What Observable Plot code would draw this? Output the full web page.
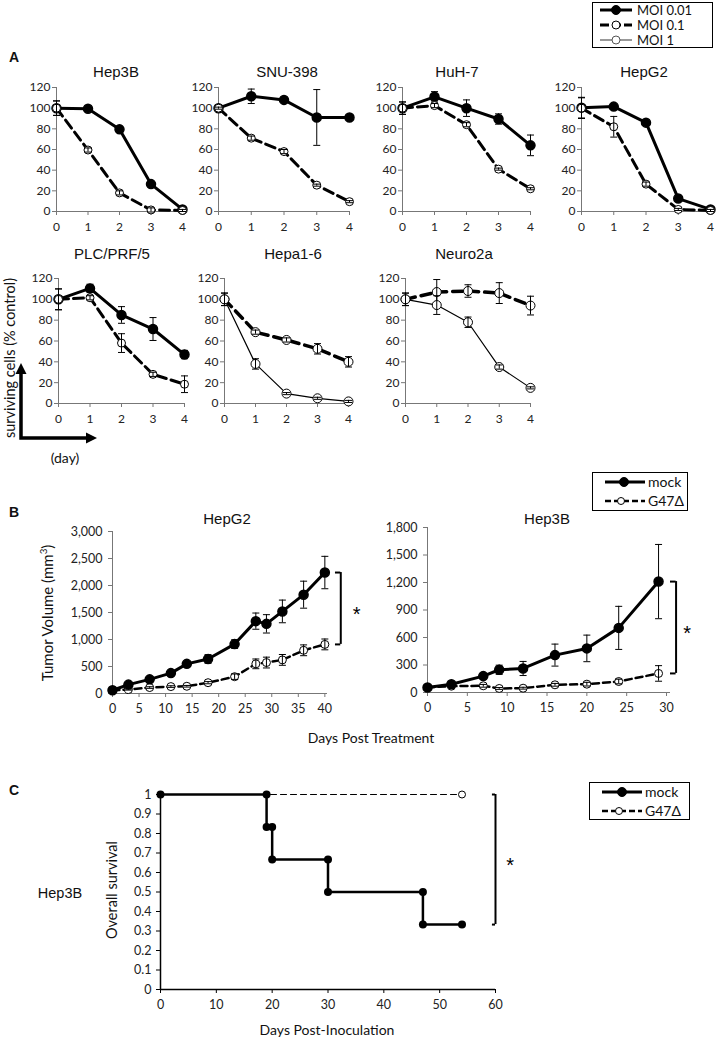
<!DOCTYPE html>
<html><head><meta charset="utf-8">
<script src="https://cdn.jsdelivr.net/npm/d3@7"></script>
<script src="https://cdn.jsdelivr.net/npm/@observablehq/plot@0.6"></script>
<style>
body{margin:0;background:#fff;}
#root{position:relative;width:717px;height:1039px;overflow:hidden;background:#fff;}
</style></head>
<body><div id="root"></div>
<script>
// ---------------- DATA ----------------
const dayTicks = [0, 1, 2, 3, 4];
const pctTicks = [0, 20, 40, 60, 80, 100, 120];

// Panel A (surviving cells, % control) — value + error arrays per cell line
const hep3B_moi001 = [100, 99.5, 79.5, 26.5, 2];
const hep3B_moi001_err = [7, 1, 3, 2, 1];
const hep3B_moi01 = [100, 59.5, 18, 1.5, 1];
const hep3B_moi01_err = [7, 2, 2, 2, 1];

const snu398_moi001 = [100, 111.5, 108, 91, 91];
const snu398_moi001_err = [1, 7, 1, 27, 1];
const snu398_moi01 = [100, 71, 58, 25.5, 9.5];
const snu398_moi01_err = [1, 2, 2, 1, 1];

const huh7_moi001 = [100, 111, 100, 89.5, 64];
const huh7_moi001_err = [6, 5, 8, 5, 10];
const huh7_moi01 = [100, 102.5, 84, 41, 22];
const huh7_moi01_err = [6, 2, 2, 1, 1];

const hepG2_moi001 = [100.5, 101.5, 86, 12.5, 2];
const hepG2_moi001_err = [10, 2, 1, 1, 1];
const hepG2_moi01 = [100, 82, 26.5, 2, 1];
const hepG2_moi01_err = [10, 10, 2, 1, 1];

const plc_moi001 = [100, 110.5, 85, 71.5, 47];
const plc_moi001_err = [10, 4, 8, 11, 4];
const plc_moi01 = [100, 101.5, 58, 28, 18.5];
const plc_moi01_err = [10, 2, 9, 2, 8];

const hepa16_moi01 = [100, 68.5, 61, 52.5, 40];
const hepa16_moi01_err = [6, 2, 2, 5, 5];
const hepa16_moi1 = [100, 38, 9.5, 5, 2];
const hepa16_moi1_err = [6, 5, 1, 1, 1];

const neuro2a_moi01 = [100, 107, 108, 106, 94];
const neuro2a_moi01_err = [6, 12, 6, 10, 9];
const neuro2a_moi1 = [100, 94.5, 78, 35, 15];
const neuro2a_moi1_err = [6, 9, 5, 2, 1];

// Panel B (tumor volume, mm3)
const hepG2Days = [0, 3, 7, 11, 14, 18, 23, 27, 29, 32, 36, 40];
const hepG2Mock = [60, 165, 262, 378, 549, 640, 915, 1340, 1290, 1520, 1830, 2240];
const hepG2MockErr = [20, 30, 40, 40, 40, 80, 80, 150, 170, 210, 250, 300];
const hepG2G47 = [60, 73, 110, 128, 134, 200, 311, 549, 573, 622, 800, 909];
const hepG2G47Err = [10, 10, 15, 15, 15, 20, 50, 90, 100, 100, 100, 100];
const hepG2VolTicks = [0, 500, 1000, 1500, 2000, 2500, 3000];
const hepG2DayTicks = [0, 5, 10, 15, 20, 25, 30, 35, 40];

const hep3BDays = [0, 3, 7, 9, 12, 16, 20, 24, 29];
const hep3BMock = [55, 90, 179, 248, 262, 408, 481, 705, 1210];
const hep3BMockErr = [10, 15, 20, 50, 77, 120, 145, 235, 405];
const hep3BG47 = [55, 69, 73, 44, 47, 84, 91, 120, 208];
const hep3BG47Err = [10, 10, 15, 10, 10, 15, 20, 25, 85];
const hep3BVolTicks = [0, 300, 600, 900, 1200, 1500, 1800];
const hep3BDayTicks = [0, 5, 10, 15, 20, 25, 30];

// Panel C (overall survival, Hep3B)
const survDaysMock = [0, 19, 19, 20, 20, 30, 30, 47, 47, 54];
const survMock = [1, 1, 0.833, 0.833, 0.667, 0.667, 0.5, 0.5, 0.333, 0.333];
const survDaysG47 = [0, 54];
const survG47 = [1, 1];
const survTicks = [0, 0.1, 0.2, 0.3, 0.4, 0.5, 0.6, 0.7, 0.8, 0.9, 1];
const survDayTicks = [0, 10, 20, 30, 40, 50, 60];

// ---------------- HELPERS ----------------
const root = document.getElementById("root");
const FT = "Lato, 'Open Sans', sans-serif";
const FA = "'Liberation Sans', Arial, sans-serif";
const fmtPlain = d => String(d);

function rows(xs, vs, es) { return xs.map((x, i) => ({x, v: vs[i], e: es ? es[i] : 0})); }

function addText(html, x, y, o = {}) {
  const d = document.createElement("div");
  d.innerHTML = html;
  d.style.cssText = `position:absolute;left:${x}px;top:${y}px;transform:translate(-50%,-50%)${o.rotate ? " rotate(-90deg)" : ""};` +
    `font-family:${o.font || FA};font-size:${o.size || 15}px;font-weight:${o.bold ? "bold" : "normal"};white-space:nowrap;color:#111;line-height:1;`;
  root.appendChild(d);
}

function panel({fx0, fx1, fy0, fy1, xd, yd, marks, padL = 60, padR = 30, padT = 15, padB = 30}) {
  const W = fx1 - fx0 + padL + padR, H = fy1 - fy0 + padT + padB;
  const svg = Plot.plot({
    width: W, height: H,
    marginLeft: padL, marginRight: padR, marginTop: padT, marginBottom: padB,
    x: {type: "linear", domain: xd, axis: null},
    y: {type: "linear", domain: yd, axis: null},
    marks
  });
  svg.style.position = "absolute";
  svg.style.left = (fx0 - padL) + "px";
  svg.style.top = (fy0 - padT) + "px";
  svg.style.overflow = "visible";
  svg.style.background = "none";
  svg.style.maxWidth = "none";
  root.appendChild(svg);
}

function errMarks(data, capW = 3.5, sw = 1, color = "#000") {
  const cap = {draw(ctx) { ctx.moveTo(-capW, 0); ctx.lineTo(capW, 0); }};
  const d = data.filter(r => r.e > 0);
  return [
    Plot.ruleX(d, {x: "x", y1: r => r.v - r.e, y2: r => r.v + r.e, stroke: color, strokeWidth: sw}),
    Plot.dot(d, {x: "x", y: r => r.v + r.e, symbol: cap, stroke: color, fill: "none", strokeWidth: sw}),
    Plot.dot(d, {x: "x", y: r => r.v - r.e, symbol: cap, stroke: color, fill: "none", strokeWidth: sw})
  ];
}

const ST = {
  moi001: {line: {stroke: "#000", strokeWidth: 3}, dot: {r: 4.5, fill: "#000", stroke: "#000"}},
  moi01: {line: {stroke: "#000", strokeWidth: 3, strokeDasharray: "10,5"}, dot: {r: 4, fill: "#fff", stroke: "#000", strokeWidth: 1}},
  moi01b: {line: {stroke: "#000", strokeWidth: 3.5, strokeDasharray: "10,6"}, dot: {r: 4.5, fill: "#fff", stroke: "#000", strokeWidth: 1}},
  moi1: {line: {stroke: "#000", strokeWidth: 1.2}, dot: {r: 4.5, fill: "#fff", stroke: "#000", strokeWidth: 1}}
};

function series(data, st) {
  return [Plot.line(data, {x: "x", y: "v", ...st.line}), Plot.dot(data, {x: "x", y: "v", ...st.dot}), ...errMarks(data)];
}

function axesA() {
  return [
    Plot.ruleX([0], {y1: 0, y2: 120, stroke: "#777"}),
    Plot.ruleY([0], {x1: 0, x2: 4, stroke: "#777"}),
    Plot.axisY({ticks: pctTicks, tickFormat: fmtPlain, tickSize: 4, tickPadding: 2, stroke: "#777", fill: "#222", fontSize: 12, fontFamily: FT, label: null}),
    Plot.axisX({ticks: dayTicks, tickFormat: fmtPlain, tickSize: 4, tickPadding: 7, stroke: "#777", fill: "#222", fontSize: 12, fontFamily: FT, label: null})
  ];
}

function cellPanel(title, fx0, fx1, fy0, fy1, tx, ty, s1, s2) {
  panel({fx0, fx1, fy0, fy1, xd: [0, 4], yd: [0, 120], marks: [...axesA(), ...s1, ...s2]});
  addText(title, tx, ty, {size: 15});
}

// ---------------- PANEL A ----------------
const R1 = [87, 211], R2 = [278, 403];
cellPanel("Hep3B", 56, 182, R1[0], R1[1], 116, 71,
  series(rows(dayTicks, hep3B_moi001, hep3B_moi001_err), ST.moi001),
  series(rows(dayTicks, hep3B_moi01, hep3B_moi01_err), ST.moi01));
cellPanel("SNU-398", 218, 349, R1[0], R1[1], 287, 71,
  series(rows(dayTicks, snu398_moi001, snu398_moi001_err), ST.moi001),
  series(rows(dayTicks, snu398_moi01, snu398_moi01_err), ST.moi01));
cellPanel("HuH-7", 402, 530, R1[0], R1[1], 457, 71,
  series(rows(dayTicks, huh7_moi001, huh7_moi001_err), ST.moi001),
  series(rows(dayTicks, huh7_moi01, huh7_moi01_err), ST.moi01));
cellPanel("HepG2", 581, 710, R1[0], R1[1], 644, 71,
  series(rows(dayTicks, hepG2_moi001, hepG2_moi001_err), ST.moi001),
  series(rows(dayTicks, hepG2_moi01, hepG2_moi01_err), ST.moi01));
cellPanel("PLC/PRF/5", 58, 184, R2[0], R2[1], 112, 253,
  series(rows(dayTicks, plc_moi001, plc_moi001_err), ST.moi001),
  series(rows(dayTicks, plc_moi01, plc_moi01_err), ST.moi01));
cellPanel("Hepa1-6", 224, 348, R2[0], R2[1], 293, 253,
  series(rows(dayTicks, hepa16_moi01, hepa16_moi01_err), ST.moi01b),
  series(rows(dayTicks, hepa16_moi1, hepa16_moi1_err), ST.moi1));
cellPanel("Neuro2a", 405, 530, R2[0], R2[1], 464, 253,
  series(rows(dayTicks, neuro2a_moi01, neuro2a_moi01_err), ST.moi01b),
  series(rows(dayTicks, neuro2a_moi1, neuro2a_moi1_err), ST.moi1));

addText("A", 14, 57, {size: 14, bold: true});
addText("surviving cells (% control)", 10, 358, {rotate: true, font: FT, size: 14.5});
addText("(day)", 65, 458, {font: FT, size: 14});

// arrows + legends (plain SVG via d3)
function svgAt(x, y, w, h) {
  const s = d3.create("svg").attr("width", w).attr("height", h)
    .style("position", "absolute").style("left", x + "px").style("top", y + "px").style("overflow", "visible");
  root.appendChild(s.node());
  return s;
}
{
  const s = svgAt(0, 355, 110, 95);
  s.append("path").attr("d", "M21,17 L21,83 L88,83").attr("fill", "none").attr("stroke", "#000").attr("stroke-width", 3.5);
  s.append("path").attr("d", "M21,8 L15.5,19 L26.5,19 Z").attr("fill", "#000");
  s.append("path").attr("d", "M97,83 L86,77.5 L86,88.5 Z").attr("fill", "#000");
}
function legend(x, y, w, h, items, fs) {
  const s = svgAt(x, y, w, h);
  s.append("rect").attr("x", 0.5).attr("y", 0.5).attr("width", w - 1).attr("height", h - 1).attr("fill", "#fff").attr("stroke", "#000");
  for (const it of items) {
    s.append("line").attr("x1", it.x1).attr("x2", it.x2).attr("y1", it.y).attr("y2", it.y)
      .attr("stroke", it.color || "#000").attr("stroke-width", it.sw).attr("stroke-dasharray", it.dash || null);
    s.append("circle").attr("cx", it.cx).attr("cy", it.y).attr("r", it.r)
      .attr("fill", it.filled ? "#000" : "#fff").attr("stroke", it.color || "#000").attr("stroke-width", 1);
    s.append("text").attr("x", it.tx).attr("y", it.y).attr("dy", "0.35em").attr("font-family", FT)
      .attr("font-size", fs).attr("fill", "#111").text(it.label);
  }
}
legend(592, 2, 121, 46, [
  {label: "MOI 0.01", y: 8, x1: 8, x2: 40, cx: 24, r: 4.5, filled: true, sw: 3, tx: 45},
  {label: "MOI 0.1", y: 23, x1: 8, x2: 40, cx: 24, r: 4, filled: false, sw: 3, dash: "9,3", tx: 45},
  {label: "MOI 1", y: 38, x1: 8, x2: 40, cx: 24, r: 4, filled: false, sw: 1.2, color: "#555", tx: 45}
], 13);

// ---------------- PANEL B ----------------
addText("B", 14, 512, {size: 14, bold: true});
function axesB(xmax, ymax, yTicks, xTicks) {
  return [
    Plot.ruleX([0], {y1: 0, y2: ymax, stroke: "#777"}),
    Plot.ruleY([0], {x1: 0, x2: xmax, stroke: "#777"}),
    Plot.axisY({ticks: yTicks, tickFormat: d3.format(","), tickSize: 4, tickPadding: 6, stroke: "#777", fill: "#222", fontSize: 12.5, fontFamily: FT, label: null}),
    Plot.axisX({ticks: xTicks, tickFormat: fmtPlain, tickSize: 4, tickPadding: 7, stroke: "#777", fill: "#222", fontSize: 12.5, fontFamily: FT, label: null})
  ];
}
const STB = {
  mock: {line: {stroke: "#000", strokeWidth: 3}, dot: {r: 4.5, fill: "#000", stroke: "#000"}},
  g47: {line: {stroke: "#000", strokeWidth: 2.5, strokeDasharray: "7,4"}, dot: {r: 4, fill: "#fff", stroke: "#000", strokeWidth: 1}}
};
function bracket(x, yTop, yBot, tickLen, starX, fs = 20) {
  return [
    Plot.ruleX([x], {y1: yBot, y2: yTop, stroke: "#000", strokeWidth: 2}),
    Plot.ruleY([yTop, yBot], {x1: x - tickLen, x2: x, stroke: "#000", strokeWidth: 2}),
    Plot.text(["*"], {x: starX, y: (yTop + yBot) / 2, dy: 6, fontSize: fs, fontFamily: FA, fill: "black", stroke: "none"})
  ];
}
{
  const m = rows(hepG2Days, hepG2Mock, hepG2MockErr), g = rows(hepG2Days, hepG2G47, hepG2G47Err);
  panel({fx0: 112, fx1: 327, fy0: 531, fy1: 693, xd: [0, 40.5], yd: [0, 3000], padR: 50,
    marks: [...axesB(40.5, 3000, hepG2VolTicks, hepG2DayTicks),
      ...series(g, STB.g47), ...series(m, STB.mock),
      ...bracket(43, hepG2Mock[hepG2Mock.length - 1], hepG2G47[hepG2G47.length - 1], 1, 46)]});
  addText("HepG2", 227, 518, {size: 15});
}
{
  const m = rows(hep3BDays, hep3BMock, hep3BMockErr), g = rows(hep3BDays, hep3BG47, hep3BG47Err);
  panel({fx0: 427, fx1: 670, fy0: 527, fy1: 692, xd: [0, 30.5], yd: [0, 1800], padR: 40,
    marks: [...axesB(30.5, 1800, hep3BVolTicks, hep3BDayTicks),
      ...series(g, STB.g47), ...series(m, STB.mock),
      ...bracket(31.2, hep3BMock[hep3BMock.length - 1], hep3BG47[hep3BG47.length - 1], 0.7, 32.6)]});
  addText("Hep3B", 547, 518, {size: 15});
}
addText("Tumor Volume (mm<sup style='font-size:0.65em;vertical-align:0.6em;line-height:0'>3</sup>)", 47, 613, {rotate: true, font: FT, size: 15});
addText("Days Post Treatment", 371, 738, {font: FT, size: 14});
legend(592, 472, 96, 39, [
  {label: "mock", y: 10, x1: 13, x2: 53, cx: 32, r: 4.5, filled: true, sw: 3, tx: 56},
  {label: "G47\u0394", y: 29, x1: 13, x2: 53, cx: 29, r: 3.5, filled: false, sw: 2.5, dash: "6,3", tx: 56}
], 14);

// ---------------- PANEL C ----------------
addText("C", 14, 790, {size: 14, bold: true});
{
  const m = rows(survDaysMock, survMock), g = rows(survDaysG47, survG47);
  panel({fx0: 160, fx1: 495, fy0: 794, fy1: 989, xd: [0, 60], yd: [0, 1], padR: 40,
    marks: [
      Plot.ruleX([0], {y1: 0, y2: 1, stroke: "#000", strokeWidth: 1.5}),
      Plot.ruleY([0], {x1: 0, x2: 60, stroke: "#000", strokeWidth: 1.5}),
      Plot.axisY({ticks: survTicks, tickFormat: fmtPlain, tickSize: 4, tickPadding: 5, stroke: "#000", fill: "#222", fontSize: 12.5, fontFamily: FT, label: null}),
      Plot.axisX({ticks: survDayTicks, tickFormat: fmtPlain, tickSize: 4, tickPadding: 7, stroke: "#000", fill: "#222", fontSize: 12.5, fontFamily: FT, label: null}),
      Plot.line(g, {x: "x", y: "v", stroke: "#000", strokeWidth: 1, strokeDasharray: "6,4"}),
      Plot.dot(g.slice(-1), {x: "x", y: "v", r: 3.5, fill: "#fff", stroke: "#000", strokeWidth: 1}),
      Plot.line(m, {x: "x", y: "v", stroke: "#000", strokeWidth: 2.5}),
      Plot.dot(m, {x: "x", y: "v", r: 4, fill: "#000"}),
      ...bracket(60, survG47[survG47.length - 1], survMock[survMock.length - 1], 0.55, 62.6)
    ]});
}
addText("Overall survival", 112, 890, {rotate: true, font: FT, size: 14.5});
addText("Hep3B", 60, 893, {size: 14.5});
addText("Days Post-Inoculation", 327, 1030, {font: FT, size: 14});
legend(589, 782, 101, 38, [
  {label: "mock", y: 10, x1: 13, x2: 53, cx: 33, r: 4.5, filled: true, sw: 3, tx: 56},
  {label: "G47\u0394", y: 29, x1: 13, x2: 53, cx: 30, r: 3.5, filled: false, sw: 2.5, dash: "6,3", tx: 56}
], 14);
</script>
</body></html>
